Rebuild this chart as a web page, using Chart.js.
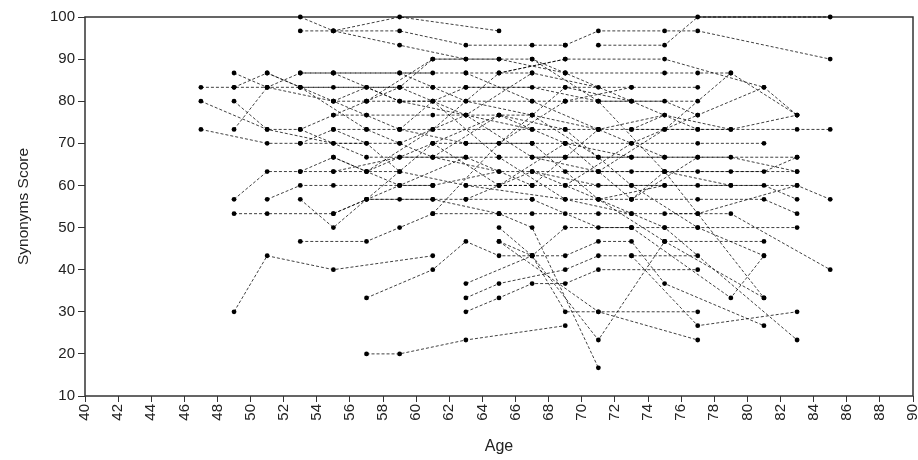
<!DOCTYPE html>
<html>
<head>
<meta charset="utf-8">
<title>Synonyms Score by Age</title>
<script src="https://cdn.jsdelivr.net/npm/chart.js@4.4.1/dist/chart.umd.min.js"></script>
<style>
  html, body { margin: 0; padding: 0; background: #fff; }
  #wrap { width: 918px; height: 460px; }
</style>
</head>
<body>
<div id="wrap"><canvas id="grafico" width="918" height="460"></canvas></div>
<script>
// each subject is a list of [age, score] visits, grouped by age at first visit
const firstVisit40s = [
  [[47, 83.3], [49, 83.3], [51, 83.3], [53, 83.3], [57, 83.3], [61, 83.3]],
  [[47, 80], [51, 73.3], [55, 70], [59, 70]],
  [[47, 73.3], [51, 70], [53, 70], [57, 70]],
  [[49, 86.7], [51, 83.3], [53, 86.7], [55, 86.7], [61, 86.7]],
  [[49, 83.3], [51, 86.7], [53, 83.3], [55, 83.3], [59, 83.3]],
  [[49, 80], [51, 73.3], [53, 73.3], [55, 76.7], [57, 76.7]],
  [[49, 73.3], [51, 83.3], [55, 80], [57, 80], [61, 80]],
  [[49, 56.7], [51, 63.3], [53, 63.3], [55, 63.3], [59, 63.3]],
  [[49, 53.3], [51, 53.3], [55, 53.3], [57, 56.7], [61, 56.7]],
  [[49, 30], [51, 43.3], [55, 40], [61, 43.3]]
];

const firstVisit50s = [
  [[51, 56.7], [53, 60], [55, 60], [59, 60], [61, 60]],
  [[51, 86.7], [55, 80], [59, 73.3], [63, 70]],
  [[53, 100], [55, 96.7], [59, 100], [65, 96.7]],
  [[53, 96.7], [55, 96.7], [59, 96.7], [63, 93.3], [67, 93.3], [69, 93.3]],
  [[55, 96.7], [59, 93.3], [63, 90], [67, 90], [69, 86.7]],
  [[53, 86.7], [55, 86.7], [59, 86.7], [63, 86.7], [67, 86.7], [71, 83.3]],
  [[53, 83.3], [57, 73.3], [61, 66.7], [65, 63.3]],
  [[53, 73.3], [55, 70], [57, 66.7], [61, 66.7], [65, 66.7], [69, 66.7]],
  [[53, 70], [55, 73.3], [57, 73.3], [59, 73.3], [61, 73.3], [67, 73.3], [71, 73.3]],
  [[53, 63.3], [55, 66.7], [57, 63.3], [59, 66.7], [63, 66.7]],
  [[53, 56.7], [55, 50], [57, 56.7], [59, 56.7], [63, 56.7], [67, 56.7]],
  [[53, 46.7], [57, 46.7], [59, 50], [61, 53.3], [65, 53.3]],
  [[55, 86.7], [59, 80], [63, 76.7], [67, 73.3]],
  [[55, 80], [57, 83.3], [59, 80], [63, 80], [67, 80], [69, 80]],
  [[55, 76.7], [57, 80], [59, 83.3], [61, 90], [65, 90]],
  [[55, 73.3], [57, 70], [59, 63.3], [63, 60], [65, 60], [67, 60]],
  [[55, 66.7], [57, 63.3], [59, 60], [61, 60]],
  [[55, 63.3], [59, 66.7], [61, 70], [63, 70], [67, 70]],
  [[55, 53.3], [59, 60], [63, 66.7], [67, 60]],
  [[57, 33.3], [61, 40], [63, 46.7], [65, 43.3], [67, 43.3]],
  [[57, 20], [59, 20], [63, 23.3], [69, 26.7]],
  [[57, 76.7], [61, 76.7], [63, 76.7], [65, 76.7], [67, 76.7]],
  [[57, 63.3], [61, 73.3], [65, 86.7], [69, 90]],
  [[57, 56.7], [61, 70], [65, 76.7], [69, 70]],
  [[59, 83.3], [63, 76.7], [67, 66.7], [71, 63.3]],
  [[59, 86.7], [63, 80], [67, 76.7], [71, 66.7]],
  [[59, 70], [63, 76.7], [67, 86.7]],
  [[57, 80], [61, 90], [63, 90]],
  [[59, 73.3], [61, 80], [63, 83.3], [67, 83.3], [71, 80]]
];

const firstVisit60s = [
  [[61, 83.3], [63, 83.3], [69, 83.3], [73, 83.3], [77, 83.3]],
  [[61, 53.3], [65, 70], [69, 80], [73, 83.3]],
  [[61, 80], [65, 66.7], [69, 56.7], [73, 53.3]],
  [[63, 36.7], [67, 43.3], [69, 50], [73, 50]],
  [[63, 33.3], [65, 36.7], [69, 40], [71, 43.3], [73, 43.3], [77, 43.3]],
  [[63, 30], [65, 33.3], [67, 36.7], [69, 36.7], [71, 40], [77, 40]],
  [[63, 86.7], [67, 80], [71, 73.3], [75, 66.7]],
  [[63, 56.7], [67, 63.3], [71, 56.7], [75, 60]],
  [[65, 50], [67, 43.3], [69, 30], [71, 30], [77, 30]],
  [[65, 46.7], [67, 43.3], [69, 43.3], [71, 46.7], [73, 46.7], [75, 36.7], [81, 26.7]],
  [[61, 60], [65, 63.3], [67, 63.3], [71, 63.3], [75, 63.3], [79, 63.3], [83, 63.3]],
  [[65, 86.7], [69, 90], [75, 90], [81, 83.3], [83, 76.7]],
  [[65, 90], [69, 86.7], [73, 80], [77, 73.3]],
  [[67, 90], [71, 80], [75, 63.3], [79, 60]],
  [[67, 76.7], [71, 73.3], [75, 73.3], [79, 73.3]],
  [[63, 70], [67, 70], [69, 70], [73, 70], [77, 70], [81, 70]],
  [[63, 60], [69, 56.7], [73, 56.7], [77, 56.7], [81, 56.7], [83, 53.3]],
  [[65, 60], [69, 60], [73, 60], [77, 60], [81, 60], [83, 56.7]],
  [[65, 53.3], [67, 53.3], [69, 53.3], [71, 53.3], [73, 53.3], [77, 53.3], [81, 33.3]],
  [[61, 56.7], [65, 53.3], [67, 50], [71, 16.7]],
  [[67, 70], [71, 56.7], [75, 46.7], [81, 33.3]],
  [[69, 80], [73, 80], [77, 80]],
  [[67, 56.7], [71, 50], [73, 50], [75, 50], [77, 50], [83, 50]],
  [[67, 60], [71, 73.3], [75, 76.7]],
  [[61, 70], [65, 60], [69, 70], [73, 66.7]],
  [[61, 66.7], [65, 76.7], [69, 73.3]],
  [[65, 70], [69, 83.3], [73, 80]],
  [[69, 70], [73, 56.7], [77, 66.7]],
  [[69, 73.3], [73, 60], [77, 50], [81, 43.3]],
  [[69, 60], [73, 70], [77, 76.7], [81, 83.3]],
  [[67, 63.3], [71, 60], [75, 60], [79, 60], [83, 60], [85, 56.7]],
  [[69, 63.3], [73, 63.3], [77, 63.3], [81, 63.3], [83, 66.7]],
  [[69, 66.7], [73, 66.7], [77, 66.7], [83, 66.7]],
  [[67, 43.3], [71, 23.3], [75, 46.7]],
  [[65, 46.7], [71, 30], [77, 23.3]],
  [[69, 93.3], [71, 96.7], [75, 96.7], [77, 96.7], [85, 90]],
  [[69, 86.7], [75, 86.7], [77, 86.7], [79, 86.7]],
  [[67, 66.7], [71, 66.7], [75, 66.7], [79, 66.7], [83, 63.3]]
];

const firstVisit70s = [
  [[71, 93.3], [75, 93.3], [77, 100], [85, 100]],
  [[71, 80], [75, 80], [77, 76.7]],
  [[71, 63.3], [75, 73.3], [79, 86.7], [83, 76.7]],
  [[73, 73.3], [77, 73.3], [83, 73.3], [85, 73.3]],
  [[73, 73.3], [75, 76.7], [79, 73.3], [83, 76.7]],
  [[73, 56.7], [75, 63.3], [77, 53.3], [83, 60]],
  [[71, 56.7], [75, 50], [83, 23.3]],
  [[75, 53.3], [79, 53.3], [85, 40]],
  [[73, 50], [79, 33.3], [81, 43.3]],
  [[73, 43.3], [77, 26.7], [83, 30]],
  [[75, 46.7], [81, 46.7]]
];

const ageTicks = [40, 42, 44, 46, 48, 50, 52, 54, 56, 58, 60, 62, 64, 66, 68, 70,
  72, 74, 76, 78, 80, 82, 84, 86, 88, 90];
const scoreTicks = [10, 20, 30, 40, 50, 60, 70, 80, 90, 100];

const subjects = [...firstVisit40s, ...firstVisit50s, ...firstVisit60s, ...firstVisit70s];

const axisColor = '#333';
const textColor = '#222';
Chart.defaults.font.family = "'Liberation Sans', Arial, sans-serif";

// full box round the plot area (the axes only give bottom and left)
const plotBox = {
  id: 'plotBox',
  beforeDatasetsDraw(chart) {
    const {ctx, chartArea: a} = chart;
    ctx.save();
    ctx.strokeStyle = axisColor;
    ctx.lineWidth = 1.5;
    ctx.strokeRect(a.left, a.top, a.right - a.left, a.bottom - a.top);
    ctx.restore();
  }
};

const datasets = subjects.map(track => ({
  data: track.map(([age, score]) => ({x: age, y: score})),
  showLine: true,
  borderColor: 'rgba(0,0,0,0.75)',
  borderWidth: 1,
  borderDash: [3, 2],
  pointRadius: 2.4,
  pointHoverRadius: 2.4,
  pointBackgroundColor: '#000',
  pointBorderWidth: 0,
  clip: false
}));

const grafico = new Chart(document.getElementById('grafico'), {
  type: 'scatter',
  data: { datasets },
  plugins: [plotBox],
  options: {
    responsive: false,
    animation: false,
    devicePixelRatio: 1,
    layout: { padding: { left: 10, top: 17, right: 5, bottom: 0 } },
    plugins: { legend: { display: false }, tooltip: { enabled: false } },
    scales: {
      x: {
        type: 'linear',
        min: 40,
        max: 90,
        afterBuildTicks: s => { s.ticks = ageTicks.map(v => ({value: v})); },
        afterFit: s => { s.height = 64; s.paddingLeft = 0; s.paddingRight = 0; },
        ticks: {
          autoSkip: false,
          minRotation: 90,
          maxRotation: 90,
          padding: 2,
          color: textColor,
          font: { size: 15 }
        },
        grid: { drawOnChartArea: false, tickLength: 6, color: axisColor },
        border: { display: false },
        title: { display: true, text: 'Age', color: textColor, font: { size: 16 } }
      },
      y: {
        min: 10,
        max: 100,
        afterBuildTicks: s => { s.ticks = scoreTicks.map(v => ({value: v})); },
        afterFit: s => { s.width = 75; s.paddingTop = 0; s.paddingBottom = 0; },
        ticks: { padding: 3, color: textColor, font: { size: 15 } },
        grid: { drawOnChartArea: false, tickLength: 7, color: axisColor },
        border: { display: false },
        title: { display: true, text: 'Synonyms Score', color: textColor, font: { size: 15.5 } }
      }
    }
  }
});
</script>
</body>
</html>
